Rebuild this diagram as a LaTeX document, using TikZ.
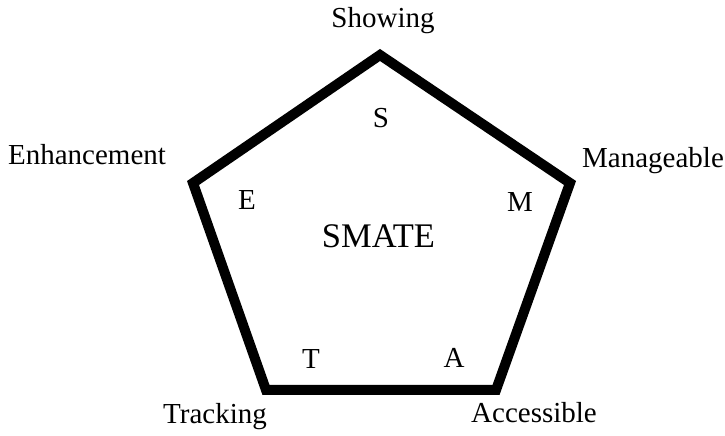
\documentclass[tikz,border=0pt]{standalone}
\usepackage{fontspec}
\setmainfont{Liberation Serif}
\begin{document}
\begin{tikzpicture}[x=1pt,y=1pt,
  lbl/.style={font=\fontsize{29}{34}\selectfont, inner sep=0pt, anchor=base},
  big/.style={font=\fontsize{34.5}{40}\selectfont, inner sep=0pt, anchor=base},
  frame/.style={line width=10pt, line join=miter}]
\useasboundingbox (0,0) rectangle (725,436);
\coordinate (vS) at (380,381);
\coordinate (vM) at (570,253);
\coordinate (vA) at (496,46);
\coordinate (vT) at (266,46);
\coordinate (vE) at (193,253);
\draw[frame] (vS) -- (vM) -- (vA) -- (vT) -- (vE) -- cycle;
\node[lbl] (showing) at (383,408) {Showing};
\node[lbl] (manage) at (653,268) {Manageable};
\node[lbl] (access) at (534,13) {Accessible};
\node[lbl] (track) at (215,12) {Tracking};
\node[lbl] (enhance) at (87,271) {Enhancement};
\node[lbl] (s) at (381,308) {S};
\node[lbl] (m) at (520,224) {M};
\node[lbl] (e) at (247,226) {E};
\node[lbl] (t) at (311,67) {T};
\node[lbl] (a) at (454,68) {A};
\node[big] (smate) at (378.5,188) {SMATE};
\end{tikzpicture}
\end{document}
